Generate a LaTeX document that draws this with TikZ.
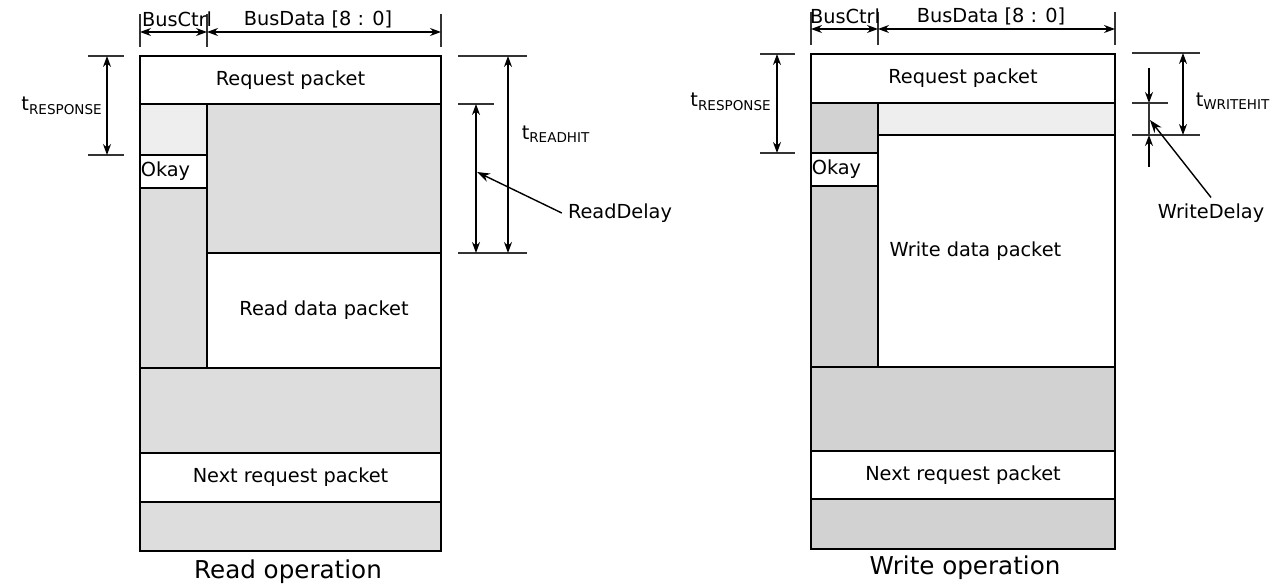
\documentclass[tikz,border=0pt]{standalone}
\usepackage{fontspec}
\setmainfont{DejaVu Sans}
\usetikzlibrary{arrows.meta, fit, positioning}
\definecolor{palegrey}{HTML}{EEEEEE}
\definecolor{midgrey}{HTML}{DDDDDD}
\definecolor{darkgrey}{HTML}{D2D2D2}
\tikzset{
  % cella di un pacchetto
  cell/.style={draw=black, line width=1.5pt, inner sep=0pt, fill=white},
  pale cell/.style={cell, fill=palegrey},
  grey cell/.style={cell, fill=midgrey},
  dark cell/.style={cell, fill=darkgrey},
  % quote e linee di riferimento
  guide/.style={line width=0.6pt, black!80},
  dimarrow/.style={{Stealth[length=2.2mm, width=1.6mm]}-{Stealth[length=2.2mm, width=1.6mm]}, line width=0.6pt},
  onearrow/.style={-{Stealth[length=2.2mm, width=1.6mm]}, line width=0.6pt},
  leader/.style={-{Stealth[length=2.6mm, width=1.8mm]}, line width=0.8pt},
  % etichette
  oplabel/.style={font=\fontsize{14}{16}\selectfont},
}
\begin{document}
\begin{tikzpicture}[x=0.02cm, y=-0.02cm, every node/.style={font=\fontsize{11}{13}\selectfont}]
  \useasboundingbox (0,0) rectangle (1279,588);
  % --- Read operation ---
  \node[cell, fit={(140,56) (441,104)}] (rreq) {};
  \node[pale cell, fit={(140,104) (207,155)}] (rctla) {};
  \node[cell, fit={(140,155) (207,188)}] (rokay) {};
  \node[grey cell, fit={(140,188) (207,368)}] (rctlb) {};
  \node[grey cell, fit={(207,104) (441,253)}] (rwait) {};
  \node[cell, fit={(207,253) (441,368)}] (rdata) {};
  \node[grey cell, fit={(140,368) (441,453)}] (rgap) {};
  \node[cell, fit={(140,453) (441,502)}] (rnext) {};
  \node[grey cell, fit={(140,502) (441,551)}] (rtail) {};
  \node (rreqt) at (rreq) {Request packet};
  \node[inner sep=1pt, anchor=west] (rokayt) at (rokay.west) {Okay};
  \node (rdatat) at (rdata) {Read data packet};
  \node (rnextt) at (rnext) {Next request packet};
  \node[oplabel] (rcap) at (288,572) {Read operation};
  % intestazione
  \foreach \x in {140,207,441} \draw[guide] (\x,14) -- (\x,47);
  \coordinate (rba) at (140,32);
  \coordinate (rbb) at (207,32);
  \coordinate (rbc) at (441,32);
  \draw[dimarrow] (rba) -- (rbb);
  \draw[dimarrow] (rbb) -- (rbc);
  \node (rbctl) at (177,19) {BusCtrl};
  \node (rbdat) at (318,19) {BusData [8 : 0]};
  % t_RESPONSE
  \draw[guide] (88,56) -- (124,56);
  \draw[guide] (88,155) -- (124,155);
  \coordinate (rsa) at (107,56);
  \coordinate (rsb) at (107,155);
  \draw[dimarrow] (rsa) -- (rsb);
  \node (rresp) at (62,106) {t\textsubscript{RESPONSE}};
  % t_READHIT e ReadDelay
  \draw[guide] (458,56) -- (527,56);
  \draw[guide] (458,104) -- (494,104);
  \draw[guide] (458,253) -- (527,253);
  \coordinate (rha) at (508,56);
  \coordinate (rhb) at (508,253);
  \coordinate (rda) at (476,104);
  \coordinate (rdb) at (476,253);
  \coordinate (rdtip) at (477,172);
  \draw[dimarrow] (rha) -- (rhb);
  \draw[dimarrow] (rda) -- (rdb);
  \node (rhit) at (556,134) {t\textsubscript{READHIT}};
  \node (rdly) at (620,213) {ReadDelay};
  \draw[leader] (rdly.west) -- (rdtip);

  % --- Write operation ---
  \node[cell, fit={(811,54) (1115,103)}] (wreq) {};
  \node[dark cell, fit={(811,103) (878,153)}] (wctla) {};
  \node[cell, fit={(811,153) (878,186)}] (wokay) {};
  \node[dark cell, fit={(811,186) (878,367)}] (wctlb) {};
  \node[pale cell, fit={(878,103) (1115,135)}] (wstrip) {};
  \node[cell, fit={(878,135) (1115,367)}] (wdata) {};
  \node[dark cell, fit={(811,367) (1115,451)}] (wgap) {};
  \node[cell, fit={(811,451) (1115,499)}] (wnext) {};
  \node[dark cell, fit={(811,499) (1115,549)}] (wtail) {};
  \node (wreqt) at (wreq) {Request packet};
  \node[inner sep=1pt, anchor=west] (wokayt) at (wokay.west) {Okay};
  \node (wdatat) at ([xshift=-12]wdata.center) {Write data packet};
  \node (wnextt) at (wnext) {Next request packet};
  \node[oplabel] (wcap) at (965,568) {Write operation};
  % intestazione
  \foreach \x in {811,878,1115} \draw[guide] (\x,12) -- (\x,45);
  \coordinate (wba) at (811,29);
  \coordinate (wbb) at (878,29);
  \coordinate (wbc) at (1115,29);
  \draw[dimarrow] (wba) -- (wbb);
  \draw[dimarrow] (wbb) -- (wbc);
  \node (wbctl) at (845,16) {BusCtrl};
  \node (wbdat) at (991,16) {BusData [8 : 0]};
  % t_RESPONSE
  \draw[guide] (760,54) -- (795,54);
  \draw[guide] (760,153) -- (795,153);
  \coordinate (wsa) at (777,54);
  \coordinate (wsb) at (777,153);
  \draw[dimarrow] (wsa) -- (wsb);
  \node (wresp) at (731,102) {t\textsubscript{RESPONSE}};
  % t_WRITEHIT e WriteDelay
  \draw[guide] (1132,53) -- (1200,53);
  \draw[guide] (1132,103) -- (1168,103);
  \draw[guide] (1132,135) -- (1200,135);
  \coordinate (wha) at (1183,53);
  \coordinate (whb) at (1183,135);
  \coordinate (wdtop) at (1149,68);
  \coordinate (wda) at (1149,103);
  \coordinate (wdb) at (1149,135);
  \coordinate (wdbot) at (1149,167);
  \coordinate (wdtip) at (1150,120);
  \draw[dimarrow] (wha) -- (whb);
  \draw[onearrow] (wdtop) -- (wda);
  \draw[guide] (wda) -- (wdb);
  \draw[onearrow] (wdbot) -- (wdb);
  \node (whit) at (1233,101) {t\textsubscript{WRITEHIT}};
  \node (wdly) at (1211,213) {WriteDelay};
  \draw[leader] (wdly.north) -- (wdtip);
\end{tikzpicture}
\end{document}
